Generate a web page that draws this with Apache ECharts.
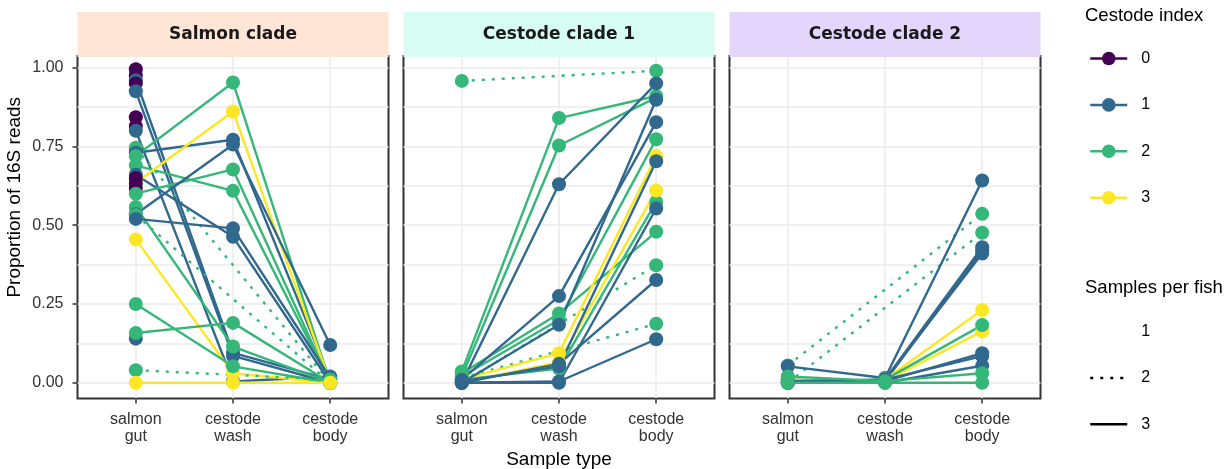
<!DOCTYPE html>
<html>
<head>
<meta charset="utf-8">
<title>Proportion of 16S reads by sample type</title>
<script src="https://cdn.jsdelivr.net/npm/echarts@6/dist/echarts.min.js"></script>
<style>
  html, body { margin: 0; padding: 0; background: #fff; }
  #chart { width: 1231px; height: 469px; }
</style>
</head>
<body>
<div id="chart"></div>
<script>
const sampleTypes = ['salmon\ngut', 'cestode\nwash', 'cestode\nbody'];
const cladeNames = ['Salmon clade', 'Cestode clade 1', 'Cestode clade 2'];
const cladeFills = ['#FEE5D6', '#D6FCF4', '#E4D5FD'];
const cestodeIndex = ['0', '1', '2', '3'];
const cestodeColors = ['#440154', '#31688E', '#35B779', '#FDE725'];
const samplesPerFish = ['1', '2', '3'];
const yLabelValues = [0, 0.25, 0.5, 0.75, 1];
const yGridValues = [0, 0.125, 0.25, 0.375, 0.5, 0.625, 0.75, 0.875, 1];

// one row per fish: [cestode index, samples per fish, salmon gut, cestode wash, cestode body]
const salmonClade = [
  [0, 1, 0.995, null, null],
  [0, 1, 0.975, null, null],
  [1, 3, 0.96, 0.095, 0.01],
  [0, 1, 0.95, null, null],
  [1, 3, 0.925, 0.085, 0.0],
  [0, 1, 0.843, null, null],
  [0, 1, 0.815, null, null],
  [1, 3, 0.80, 0.004, 0.02],
  [0, 1, 0.742, null, null],
  [2, 2, 0.746, null, 0.0],
  [1, 3, 0.73, 0.771, 0.01],
  [2, 3, 0.72, 0.953, 0.0],
  [2, 3, 0.69, 0.609, 0.0],
  [1, 3, 0.66, 0.463, 0.0],
  [3, 3, 0.635, 0.861, 0.0],
  [0, 1, 0.65, null, null],
  [0, 1, 0.634, null, null],
  [0, 1, 0.618, null, null],
  [2, 3, 0.60, 0.677, 0.0],
  [2, 3, 0.558, 0.115, 0.0],
  [1, 3, 0.535, 0.756, 0.12],
  [2, 2, 0.532, null, 0.0],
  [1, 3, 0.52, 0.49, 0.015],
  [3, 3, 0.455, 0.03, 0.0],
  [2, 3, 0.25, 0.052, 0.0],
  [1, 1, 0.14, null, null],
  [2, 3, 0.158, 0.19, 0.0],
  [2, 2, 0.04, null, 0.01],
  [3, 3, 0.0, 0.0, 0.0]
];

const cestodeClade1 = [
  [2, 2, 0.958, null, 0.99],
  [2, 3, 0.036, 0.84, 0.91],
  [2, 3, 0.02, 0.753, 0.905],
  [2, 3, 0.03, 0.22, 0.479],
  [2, 3, 0.02, 0.20, 0.773],
  [2, 3, 0.01, 0.045, 0.574],
  [2, 2, 0.0, null, 0.373],
  [2, 2, 0.015, null, 0.187],
  [3, 3, 0.01, 0.094, 0.72],
  [3, 3, 0.0, 0.065, 0.61],
  [1, 3, 0.0, 0.63, 0.95],
  [1, 3, 0.01, 0.275, 0.827],
  [1, 3, 0.0, 0.184, 0.898],
  [1, 3, 0.005, 0.052, 0.703],
  [1, 3, 0.0, 0.0, 0.553],
  [1, 3, 0.0, 0.06, 0.326],
  [1, 3, 0.0, 0.004, 0.138]
];

const cestodeClade2 = [
  [2, 2, 0.055, null, 0.536],
  [2, 2, 0.0, null, 0.476],
  [1, 3, 0.052, 0.015, 0.642],
  [1, 3, 0.0, 0.01, 0.43],
  [1, 3, 0.01, 0.005, 0.42],
  [1, 3, 0.0, 0.01, 0.41],
  [3, 3, 0.0, 0.01, 0.231],
  [3, 3, 0.01, 0.005, 0.163],
  [2, 3, 0.005, 0.01, 0.183],
  [1, 3, 0.0, 0.005, 0.094],
  [1, 3, 0.005, 0.01, 0.085],
  [1, 3, 0.0, 0.0, 0.054],
  [2, 3, 0.02, 0.005, 0.03],
  [2, 3, 0.0, 0.0, 0.0]
];

const panels = [salmonClade, cestodeClade1, cestodeClade2];

// panel layout (px)
const panelLeft = [77.5, 403.5, 729.5];
const panelWidth = 311;
const panelTop = 56;
const panelHeight = 342.5;
const stripTop = 12;

const font = 'Liberation Sans';
const axisText = { fontFamily: font, fontSize: 16, color: '#333' };
const gridLine = { color: '#EBEBEB', width: 1.5 };
const dotted = [3, 7];

// outerBoundsMode 'none' keeps every panel the same size (v6 would shrink the one carrying the axis name)
const grids = panelLeft.map(left => ({
  left: left, top: panelTop, width: panelWidth, height: panelHeight,
  outerBoundsMode: 'none',
  show: true, borderColor: '#333', borderWidth: 2
}));

const xAxes = panelLeft.map((_, p) => ({
  type: 'value', gridIndex: p, min: 0.4, max: 3.6,
  axisLine: { show: false, onZero: false },
  axisTick: { customValues: [1, 2, 3], length: 5, lineStyle: { color: '#333', width: 1.5 } },
  axisLabel: Object.assign({
    customValues: [1, 2, 3], margin: 13, lineHeight: 17,
    formatter: v => sampleTypes[v - 1]
  }, axisText),
  splitLine: { show: true, lineStyle: gridLine },
  name: p === 1 ? 'Sample type' : '',
  nameLocation: 'middle', nameGap: 50,
  nameTextStyle: { fontFamily: font, fontSize: 19, color: '#000' }
}));

const yAxes = panelLeft.map((_, p) => ({
  type: 'value', gridIndex: p, position: 'left', min: -0.05, max: 1.037,
  axisLine: { show: false, onZero: false },
  axisTick: { show: false, customValues: yGridValues },
  axisLabel: p === 0
    ? Object.assign({ customValues: yLabelValues, margin: 14, formatter: v => v.toFixed(2) }, axisText)
    : { show: false },
  splitLine: { show: true, lineStyle: gridLine },
  name: p === 0 ? 'Proportion of 16S reads' : '',
  nameLocation: 'middle', nameGap: 53,
  // padding nudges the rotated title up to sit level with the strip-and-panel block
  nameTextStyle: { fontFamily: font, fontSize: 19, color: '#000', padding: [0, 0, 0, 60] }
}));
// tick marks only at the labelled values
yAxes.push({
  type: 'value', gridIndex: 0, position: 'left', min: -0.05, max: 1.037,
  axisLine: { show: false, onZero: false },
  axisTick: { show: true, customValues: yLabelValues, length: 5, lineStyle: { color: '#333', width: 1.5 } },
  axisLabel: { show: false },
  splitLine: { show: false }
});

const series = [];

// legend-only series
cestodeIndex.forEach((name, i) => {
  series.push({
    type: 'line', name: name, data: [], xAxisIndex: 0, yAxisIndex: 0,
    symbol: 'circle', color: cestodeColors[i], lineStyle: { width: 2.5 }
  });
});
samplesPerFish.forEach((name, i) => {
  series.push({
    type: 'line', name: 'spf' + name, data: [], xAxisIndex: 0, yAxisIndex: 0,
    symbol: 'none', color: '#000',
    lineStyle: { width: 2.5, type: i === 1 ? dotted : 'solid', opacity: i === 0 ? 0 : 1 }
  });
});

panels.forEach((rows, p) => {
  const points = [];
  rows.forEach(r => {
    const color = cestodeColors[r[0]];
    const pts = [[1, r[2]], [2, r[3]], [3, r[4]]].filter(d => d[1] !== null);
    if (r[1] > 1) {
      series.push({
        type: 'line', name: cestodeIndex[r[0]], xAxisIndex: p, yAxisIndex: p,
        data: pts, showSymbol: false, silent: true, z: 2,
        lineStyle: { color: color, width: 2.4, type: r[1] === 2 ? dotted : 'solid', cap: 'butt' }
      });
    }
    pts.forEach(d => points.push({ value: d, itemStyle: { color: color, opacity: 1 } }));
  });
  series.push({
    type: 'scatter', xAxisIndex: p, yAxisIndex: p, data: points,
    symbol: 'circle', symbolSize: 14, z: 3, silent: true,
    itemStyle: { opacity: 1 }
  });
});

const graphic = [];
panelLeft.forEach((left, p) => {
  graphic.push({
    type: 'rect', z: 100,
    shape: { x: left, y: stripTop, width: panelWidth, height: panelTop - stripTop + 1 },
    style: { fill: cladeFills[p] }
  });
  graphic.push({
    type: 'text', z: 101, x: left + panelWidth / 2, y: 34.5,
    style: {
      text: cladeNames[p], font: 'bold 17px "DejaVu Sans"', fill: '#1a1a1a',
      align: 'center', verticalAlign: 'middle'
    }
  });
});

const legendBase = {
  orient: 'vertical', left: 1084, itemWidth: 37, itemHeight: 17, itemGap: 30.4,
  selectedMode: false,
  textStyle: { fontFamily: font, fontSize: 16, color: '#000', padding: [0, 0, 0, 9] }
};

const option = {
  animation: false,
  backgroundColor: '#fff',
  title: [
    { text: 'Cestode index', left: 1085, top: 6, padding: 0,
      textStyle: { fontFamily: font, fontSize: 18.5, fontWeight: 'normal', color: '#000' } },
    { text: 'Samples per fish', left: 1085, top: 278, padding: 0,
      textStyle: { fontFamily: font, fontSize: 18.5, fontWeight: 'normal', color: '#000' } }
  ],
  legend: [
    Object.assign({}, legendBase, {
      top: 45.5, data: cestodeIndex,
      lineStyle: { width: 2.5 }
    }),
    Object.assign({}, legendBase, {
      top: 318.5, data: samplesPerFish.map(s => 'spf' + s),
      formatter: n => n.slice(3),
      itemStyle: { opacity: 0 },
      lineStyle: { width: 2.5 }
    })
  ],
  grid: grids,
  xAxis: xAxes,
  yAxis: yAxes,
  series: series,
  graphic: graphic
};

const chart = echarts.init(document.getElementById('chart'), null, { renderer: 'canvas' });
chart.setOption(option);
</script>
</body>
</html>
